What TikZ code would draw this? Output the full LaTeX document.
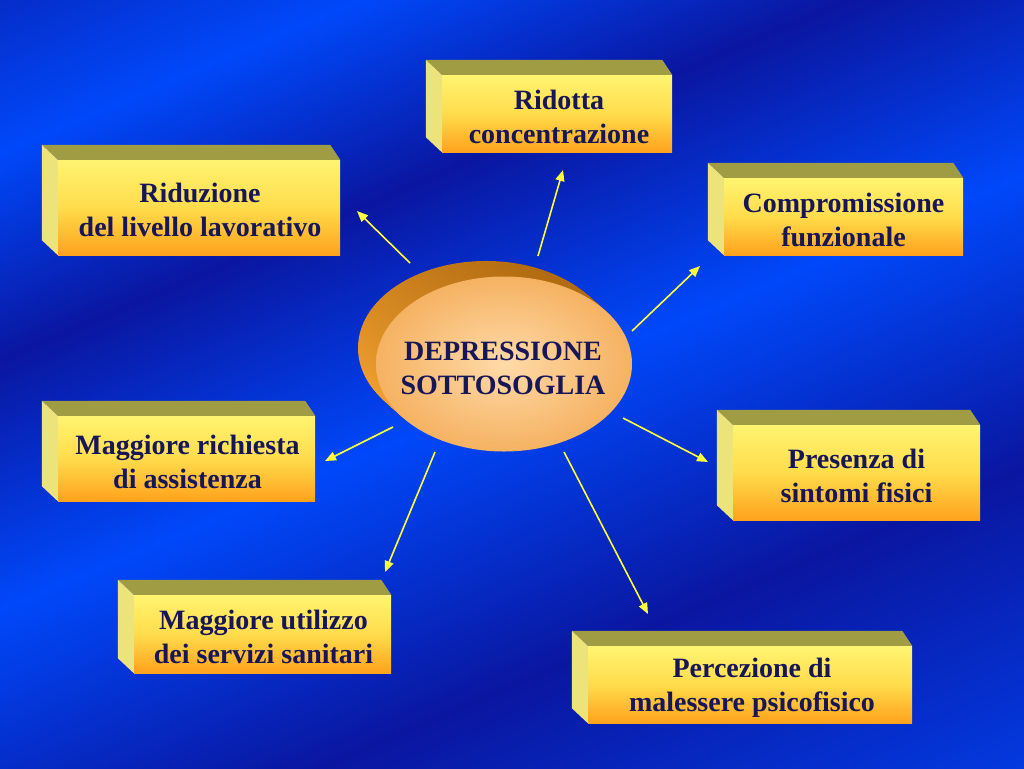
\documentclass[tikz,border=0pt]{standalone}
\usepackage{fontspec}
\setmainfont{Liberation Serif}
\usetikzlibrary{shapes.geometric,arrows.meta,calc}
\definecolor{bgdark}{HTML}{0A16A0}
\definecolor{bgbright}{HTML}{0048FA}
\definecolor{txt}{HTML}{161658}
\definecolor{faceT}{HTML}{FFF470}
\definecolor{faceM}{HTML}{FFDC4C}
\definecolor{faceB}{HTML}{FFA21C}
\definecolor{topf}{HTML}{A09C44}
\definecolor{sidef}{HTML}{ECE47A}
\definecolor{arr}{HTML}{FFFF38}
\definecolor{elIn}{HTML}{FFDAA8}
\definecolor{elOut}{HTML}{F5B262}
\definecolor{rimL}{HTML}{F2A030}
\definecolor{rimD}{HTML}{B06A10}
\begin{document}
\begin{tikzpicture}[x=1pt,y=-1pt,
  cube/.style={rectangle, inner sep=0pt, top color=faceT, bottom color=faceB, middle color=faceM},
  cubetext/.style={text=txt, font=\fontsize{28}{34}\selectfont\bfseries, align=center, inner sep=0pt},
  topface/.style={fill=topf},
  sideface/.style={fill=sidef},
  link/.style={draw=arr, line width=1.6pt, -{Triangle[length=11pt,width=9pt]}},
  rim/.style={top color=rimD, bottom color=rimL, shading angle=-30},
  core/.style={ellipse, inner sep=0pt, minimum width=256pt, minimum height=175pt,
    inner color=elIn, outer color=elOut}
]
\useasboundingbox (0,0) rectangle (1024,768);
% background
\begin{scope}
\clip (0,0) rectangle (1024,768);
\begin{scope}[transform canvas={rotate around={-67:(512,384)}}]
\shade[left color=bgdark, right color=bgbright] (-160,-316) rectangle (100,1084);
\shade[left color=bgbright, right color=bgdark] (99,-316) rectangle (290,1084);
\shade[left color=bgdark, right color=bgbright] (289,-316) rectangle (520,1084);
\shade[left color=bgbright, right color=bgdark] (519,-316) rectangle (790,1084);
\shade[left color=bgdark, right color=bgbright] (789,-316) rectangle (1180,1084);
\end{scope}
\end{scope}
% boxes
\node[cube, minimum width=230pt, minimum height=77pt] (n1) at (557,113.5) {};
\node[cube, minimum width=282pt, minimum height=95pt] (n2) at (199,207.5) {};
\node[cube, minimum width=239pt, minimum height=77pt] (n3) at (843.5,216.5) {};
\node[cube, minimum width=257pt, minimum height=85pt] (n4) at (186.5,458.5) {};
\node[cube, minimum width=247pt, minimum height=95pt] (n5) at (856.5,472.5) {};
\node[cube, minimum width=257pt, minimum height=78pt] (n6) at (262.5,634) {};
\node[cube, minimum width=324pt, minimum height=77pt] (n7) at (750,684.5) {};
\foreach \n in {n1,n2,n3,n4,n5,n6,n7}{
  \fill[topface] (\n.north west) -- ++(-16,-15) -- ($(\n.north east)+(-10,-15)$) -- (\n.north east) -- cycle;
  \fill[sideface] (\n.north west) -- ++(-16,-15) -- ($(\n.south west)+(-16,-15)$) -- (\n.south west) -- cycle;
}
\node[cubetext] (n1t) at ($(n1)+(2,3)$) {Ridotta\\concentrazione};
\node[cubetext] (n2t) at ($(n2)+(1,2)$) {Riduzione\\del livello lavorativo};
\node[cubetext] (n3t) at ($(n3)+(0,3)$) {Compromissione\\funzionale};
\node[cubetext] (n4t) at ($(n4)+(1,3)$) {Maggiore richiesta\\di assistenza};
\node[cubetext] (n5t) at ($(n5)+(0,3)$) {Presenza di\\sintomi fisici};
\node[cubetext] (n6t) at ($(n6)+(1,3)$) {Maggiore utilizzo\\dei servizi sanitari};
\node[cubetext] (n7t) at ($(n7)+(2,3)$) {Percezione di\\malessere psicofisico};
% central ellipse
\foreach \k in {18,17,...,1}
  \shade[rim] ({504-\k},{364-\k*0.89}) ellipse [x radius=128pt, y radius=87pt];
\node[core] (c) at (504,364) {};
\node[cubetext] (ct) at (503,368) {DEPRESSIONE\\SOTTOSOGLIA};
% arrows
\coordinate (s1) at (410,263); \coordinate (t1) at (357,211);
\coordinate (s2) at (538,256); \coordinate (t2) at (563,170);
\coordinate (s3) at (632,331); \coordinate (t3) at (700,266);
\coordinate (s4) at (393,427); \coordinate (t4) at (325,461);
\coordinate (s5) at (623,418); \coordinate (t5) at (708,462);
\coordinate (s6) at (435,452); \coordinate (t6) at (385,572);
\coordinate (s7) at (564,452); \coordinate (t7) at (648,614);
\foreach \i in {1,...,7} \draw[link] (s\i) -- (t\i);
\end{tikzpicture}
\end{document}
